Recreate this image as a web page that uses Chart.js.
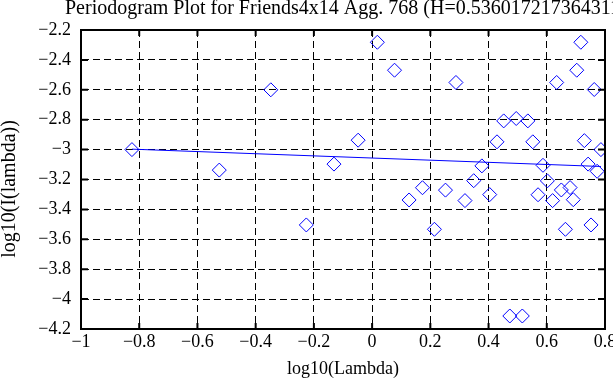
<!DOCTYPE html>
<html>
<head>
<meta charset="utf-8">
<script src="https://cdn.jsdelivr.net/npm/chart.js@4.4.0/dist/chart.umd.min.js"></script>
<style>
  html, body { margin: 0; padding: 0; background: #fff; }
</style>
</head>
<body>
<canvas id="myChart" width="613" height="385"></canvas>
<script>
// periodogram points
const titleText = 'Periodogram Plot for Friends4x14 Agg. 768 (H=0.536017217364311)';
const yTitle = 'log10(I(lambda))';
const logLambda = [-0.825, -0.525, -0.348, -0.226, -0.131, -0.048, 0.018, 0.077, 0.127, 0.173,
  0.214, 0.252, 0.288, 0.319, 0.349, 0.377, 0.404, 0.429, 0.452, 0.473,
  0.495, 0.516, 0.535, 0.552, 0.570, 0.587, 0.602, 0.620, 0.634, 0.650,
  0.664, 0.680, 0.691, 0.703, 0.717, 0.729, 0.742, 0.752, 0.763, 0.773, 0.786];
const logI = [-3.0, -3.137, -2.6, -3.504, -3.097, -2.937, -2.282, -2.469, -3.337, -3.255,
  -3.533, -3.271, -2.551, -3.341, -3.208, -3.109, -3.301, -2.948, -2.808, -4.113,
  -2.792, -4.113, -2.808, -2.948, -3.302, -3.105, -3.209, -3.341, -2.551, -3.27,
  -3.533, -3.254, -3.335, -2.469, -2.282, -2.94, -3.097, -3.504, -2.598, -3.145, -3.0];
// fitted line
const fitX = [-0.825, 0.786];
const fitY = [-2.997, -3.113];
const xTicks = [-1, -0.8, -0.6, -0.4, -0.2, 0, 0.2, 0.4, 0.6, 0.8];
const yTicks = [-2.2, -2.4, -2.6, -2.8, -3, -3.2, -3.4, -3.6, -3.8, -4, -4.2];

const fmt = (value) => {
  const v = Math.round(value * 10) / 10;
  return v < 0 ? '\u2212' + String(-v) : String(v);
};

const serif = "'Liberation Serif', 'Times New Roman', serif";
Chart.defaults.font.family = serif;
Chart.defaults.font.size = 18;
Chart.defaults.color = '#000';

// box, inward tick marks, title and y label
const frame = {
  id: 'frame',
  afterDraw(chart) {
    const { ctx, chartArea: a, scales: { x, y } } = chart;
    ctx.save();
    ctx.strokeStyle = '#000';
    ctx.lineWidth = 2;
    ctx.beginPath();
    xTicks.forEach(v => {
      const px = x.getPixelForValue(v);
      ctx.moveTo(px, a.top); ctx.lineTo(px, a.top + 6);
      ctx.moveTo(px, a.bottom); ctx.lineTo(px, a.bottom - 6);
    });
    yTicks.forEach(v => {
      const py = y.getPixelForValue(v);
      ctx.moveTo(a.left, py); ctx.lineTo(a.left + 7, py);
      ctx.moveTo(a.right, py); ctx.lineTo(a.right - 7, py);
    });
    ctx.stroke();
    ctx.strokeRect(a.left, a.top, a.right - a.left, a.bottom - a.top);
    ctx.fillStyle = '#000';
    ctx.font = '20px ' + serif;
    ctx.textBaseline = 'alphabetic';
    ctx.textAlign = 'left';
    ctx.fillText(titleText, 65, 14);
    ctx.translate(10, 189);
    ctx.rotate(-Math.PI / 2);
    ctx.textAlign = 'center';
    ctx.textBaseline = 'middle';
    ctx.fillText(yTitle, 0, 0);
    ctx.restore();
  }
};

const points = logLambda.map((v, i) => ({ x: v, y: logI[i] }));
const fit = fitX.map((v, i) => ({ x: v, y: fitY[i] }));

new Chart(document.getElementById('myChart'), {
  type: 'scatter',
  data: {
    datasets: [
      {
        data: fit,
        showLine: true,
        borderColor: '#0000ff',
        borderWidth: 1,
        pointRadius: 0,
        clip: 0
      },
      {
        data: points,
        pointStyle: 'rectRot',
        pointRadius: 7,
        pointHoverRadius: 7,
        borderColor: '#0000ff',
        backgroundColor: 'rgba(0,0,0,0)',
        borderWidth: 1,
        clip: 0
      }
    ]
  },
  options: {
    responsive: false,
    animation: false,
    devicePixelRatio: 1,
    layout: { padding: { top: 30, right: 4, left: 0, bottom: 0 } },
    plugins: { legend: { display: false }, tooltip: { enabled: false } },
    scales: {
      x: {
        type: 'linear',
        min: -1,
        max: 0.8,
        afterBuildTicks: (s) => { s.ticks = xTicks.map(v => ({ value: v })); },
        afterFit: (s) => { s.height = 56; s.paddingLeft = 0; s.paddingRight = 0; },
        ticks: { callback: fmt, padding: 2, maxRotation: 0, autoSkip: false },
        grid: { color: '#000', lineWidth: 1, drawTicks: false },
        border: { display: true, color: '#000', width: 2, dash: [7, 4] },
        title: { display: true, text: 'log10(Lambda)', padding: { top: 0, bottom: 5 } }
      },
      y: {
        type: 'linear',
        min: -4.2,
        max: -2.2,
        afterBuildTicks: (s) => { s.ticks = yTicks.map(v => ({ value: v })); },
        afterFit: (s) => { s.width = 81; },
        ticks: { callback: fmt, padding: 10, autoSkip: false },
        grid: { color: '#000', lineWidth: 1, drawTicks: false },
        border: { display: true, color: '#000', width: 2, dash: [7, 4] },
        title: { display: false }
      }
    }
  },
  plugins: [frame]
});
</script>
</body>
</html>
